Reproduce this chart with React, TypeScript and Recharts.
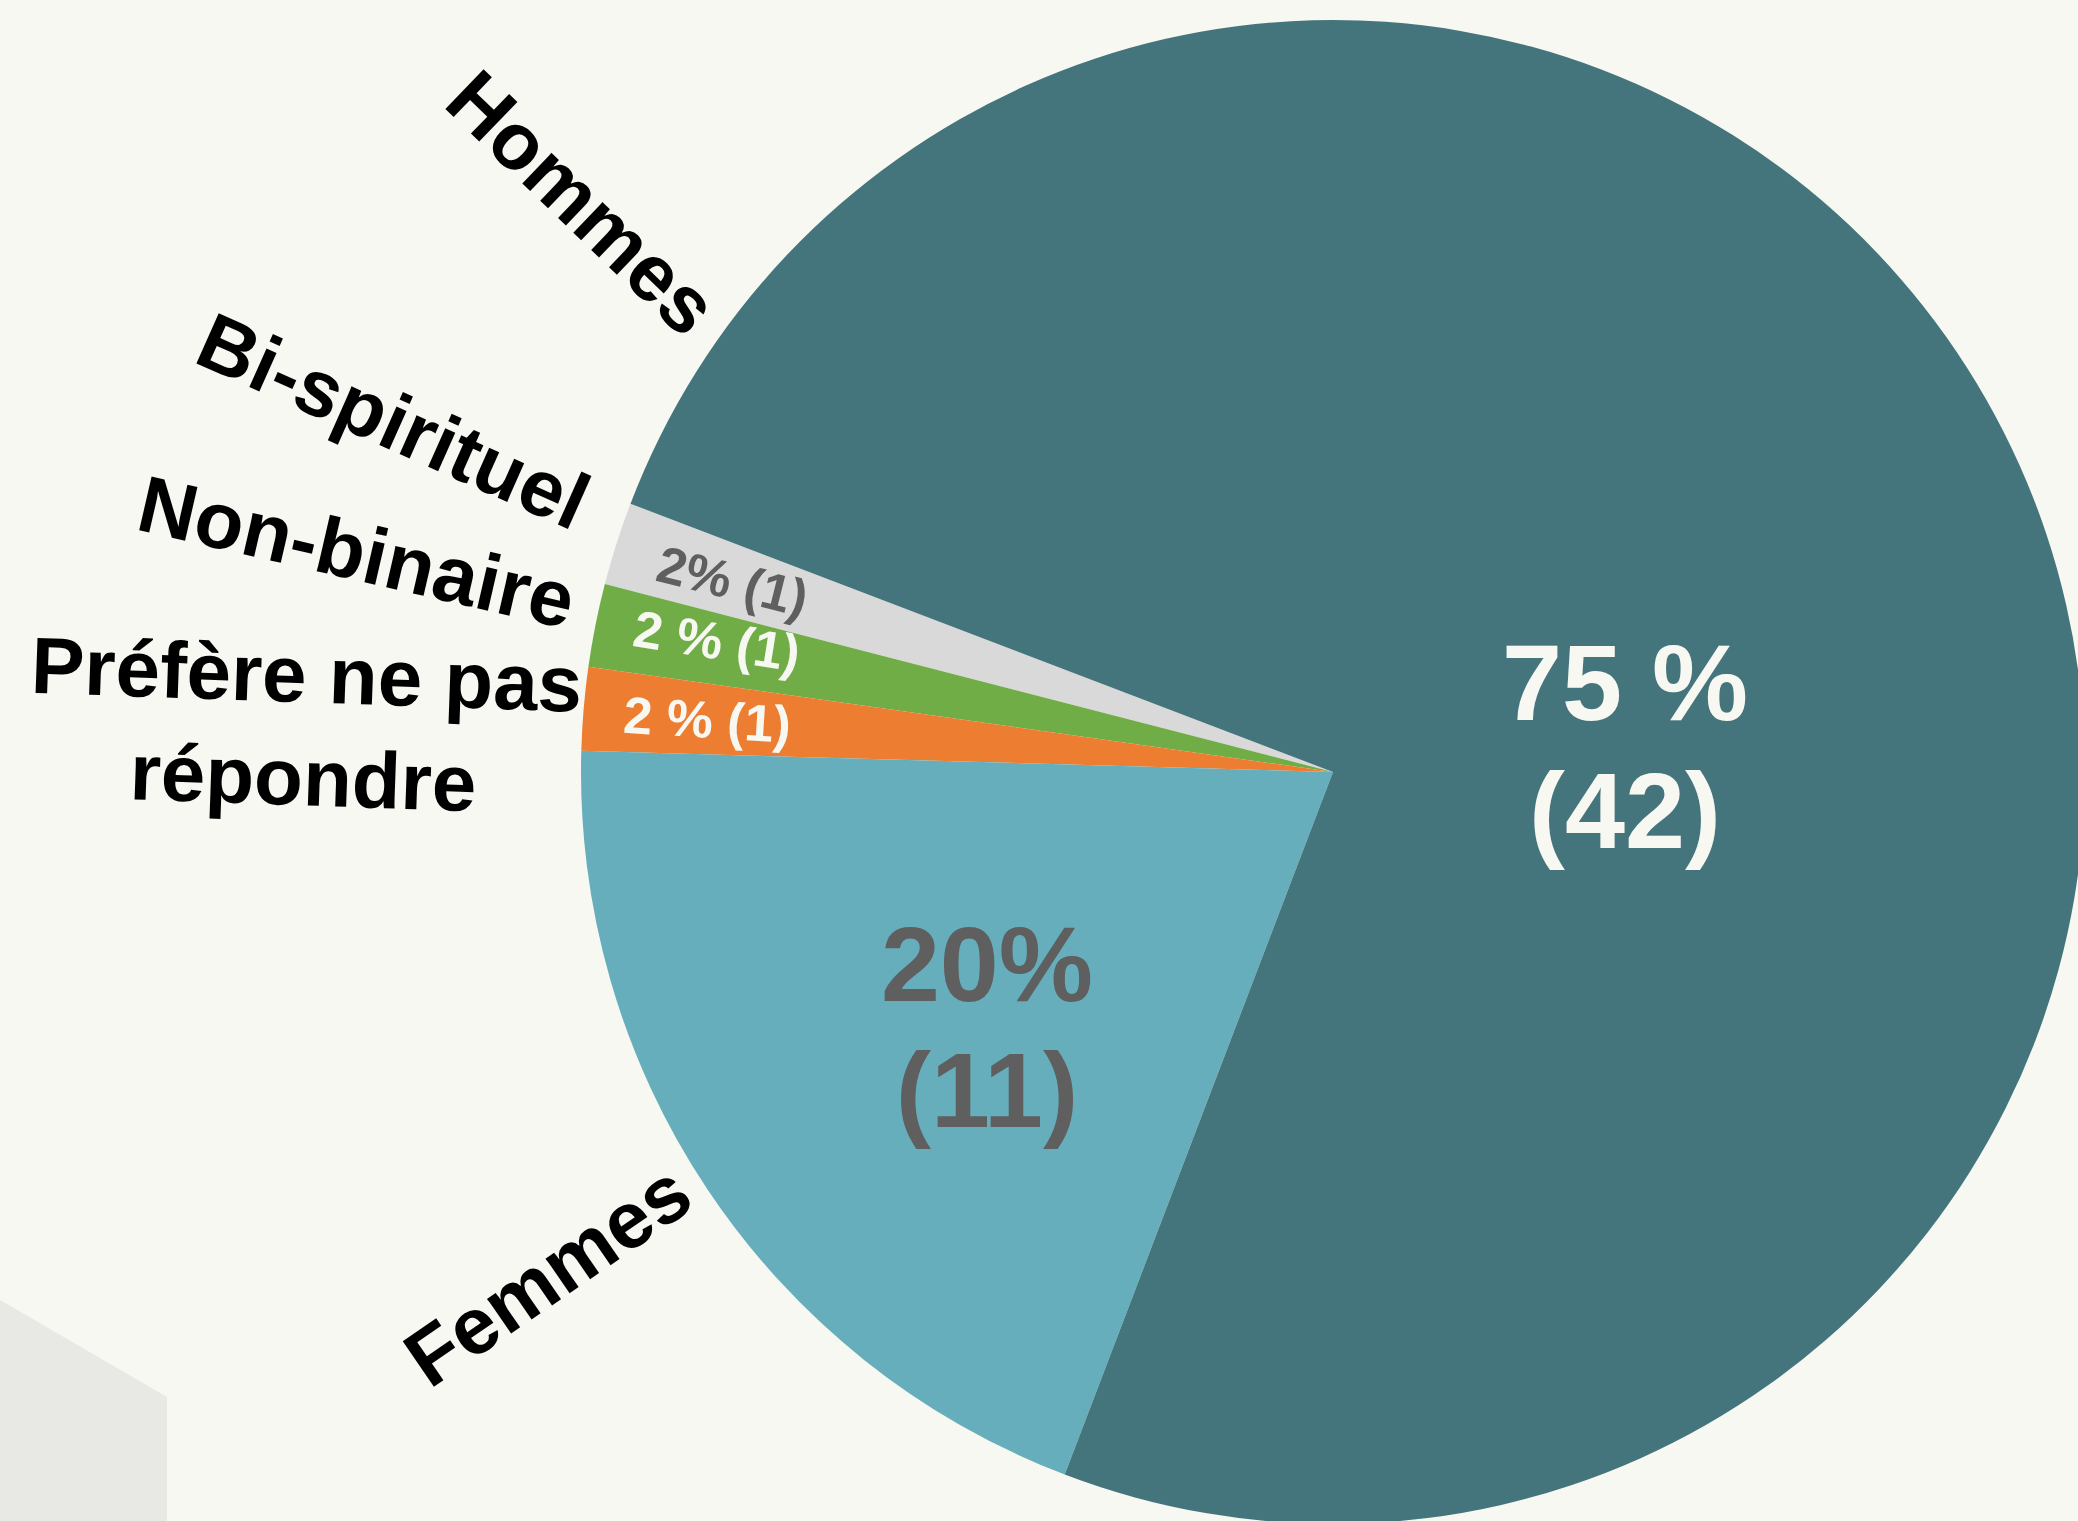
import { Cell, Pie, PieChart } from "recharts";

// slices, counter-clockwise from the grey one
const categories = ["Bi-spirituel", "Non-binaire", "Préfère ne pas répondre", "Femmes", "Hommes"];
const counts = [1, 1, 1, 11, 42];
const valueLabels = [["2% (1)"], ["2 % (1)"], ["2 % (1)"], ["20%", "(11)"], ["75 %", "(42)"]];
const colors = ["#D9D9D9", "#70AD47", "#ED7D31", "#66AEBB", "#45757C"];

const W = 2078;
const H = 1521;
const CX = 1333;
const CY = 772;
const R = 752;
const START = 159.1;
const FONT = '"Liberation Sans", Arial, Helvetica, sans-serif';
const BG = "#F7F8F2";

// where the category names sit (offset from pie centre)
const nameLayout = [
  { dx: -939, dy: -352, rot: 24, breakAfter: 0 },
  { dx: -976, dy: -221, rot: 13, breakAfter: 0 },
  { dx: -1028, dy: -47, rot: 2, breakAfter: 3 },
  { dx: -786, dy: 502, rot: -34.5, breakAfter: 0 },
  { dx: -750, dy: -570, rot: 44, breakAfter: 0 },
];

// value labels: small slices go along the slice, big ones are offset blocks
const valueLayout = [
  { polar: 630, rot: 14, size: 52, color: "#5F5F5F", ddy: 0 },
  { polar: 628, rot: 9, size: 52, color: "#F8F8F2", ddy: -9 },
  { polar: 628, rot: 3.5, size: 52, color: "#F8F8F2", ddy: 0 },
  { dx: -346, dy: 254, size: 106, lh: 126, color: "#5F5F5F" },
  { dx: 292, dy: -27, size: 108, lh: 128, color: "#F8F8F2" },
];

const data = categories.map((name, i) => ({ name, value: counts[i] }));

const RAD = Math.PI / 180;

function renderLabel(props: any) {
  const { index, midAngle } = props;
  const nl = nameLayout[index];
  const vl: any = valueLayout[index];

  // category name
  const nx = CX + nl.dx;
  const ny = CY + nl.dy;
  const words = categories[index].split(" ");
  const nameLines =
    nl.breakAfter > 0
      ? [words.slice(0, nl.breakAfter).join(" "), words.slice(nl.breakAfter).join(" ")]
      : [categories[index]];
  const nameLH = 103;

  // value label
  let vx: number;
  let vy: number;
  if (vl.polar) {
    vx = CX + vl.polar * Math.cos(-midAngle * RAD);
    vy = CY + vl.polar * Math.sin(-midAngle * RAD) + (vl.ddy || 0);
  } else {
    vx = CX + vl.dx;
    vy = CY + vl.dy;
  }
  const vLines = valueLabels[index];
  const vLH = vl.lh || 0;

  return (
    <g>
      <g transform={`rotate(${nl.rot}, ${nx}, ${ny})`}>
        {nameLines.map((t, k) => (
          <text
            key={k}
            x={nx}
            y={ny + (k - (nameLines.length - 1) / 2) * nameLH}
            dy="0.36em"
            textAnchor="middle"
            fontFamily={FONT}
            fontWeight={700}
            fontSize={80}
            fill="#000"
          >
            {t}
          </text>
        ))}
      </g>
      <g transform={`rotate(${vl.rot || 0}, ${vx}, ${vy})`}>
        {vLines.map((t, k) => (
          <text
            key={k}
            x={vx}
            y={vy + (k - (vLines.length - 1) / 2) * vLH}
            dy="0.36em"
            textAnchor="middle"
            fontFamily={FONT}
            fontWeight={700}
            fontSize={vl.size}
            fill={vl.color}
          >
            {t}
          </text>
        ))}
      </g>
    </g>
  );
}

export default function App() {
  return (
    <div
      style={{
        position: "absolute",
        left: 0,
        top: 0,
        width: W,
        height: H,
        background: BG,
        overflow: "hidden",
      }}
    >
      <div
        style={{
          position: "absolute",
          left: 0,
          top: 0,
          width: W,
          height: H,
          background: "#E8E9E4",
          clipPath: "polygon(0px 1300px, 167px 1397px, 167px 1521px, 0px 1521px)",
        }}
      />
      <div style={{ position: "absolute", left: 0, top: 0 }}>
        <PieChart width={W} height={H} margin={{ top: 0, right: 0, bottom: 0, left: 0 }}>
          <Pie
            data={data}
            dataKey="value"
            nameKey="name"
            cx={CX}
            cy={CY}
            outerRadius={R}
            startAngle={START}
            endAngle={START + 360}
            stroke="none"
            label={renderLabel}
            labelLine={false}
            isAnimationActive={false}
          >
            {data.map((d, i) => (
              <Cell key={d.name} fill={colors[i]} />
            ))}
          </Pie>
        </PieChart>
      </div>
    </div>
  );
}
